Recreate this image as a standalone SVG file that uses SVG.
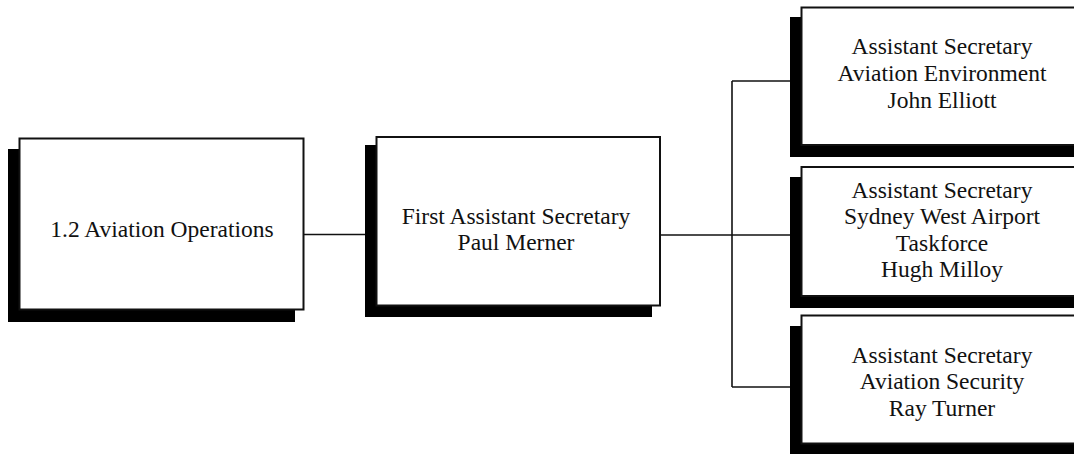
<svg xmlns="http://www.w3.org/2000/svg" width="1074" height="454" viewBox="0 0 1074 454">
  <style>
    .shadow { fill: #000; }
    .box { fill: #fff; stroke: #111; stroke-width: 2; }
    .label { font-family: "Liberation Serif", "Times New Roman", serif; font-size: 23.5px; fill: #111; text-anchor: middle; }
    .link { fill: none; stroke: #111; stroke-width: 1.6; }
  </style>
  <rect width="1074" height="454" fill="#fff"/>

  <!-- connectors -->
  <g id="connectors">
    <path class="link" d="M303 234.5 H377"/>
    <path class="link" d="M660 235 H790"/>
    <path class="link" d="M732 81 V387"/>
    <path class="link" d="M732 81 H790"/>
    <path class="link" d="M732 387 H790"/>
  </g>

  <g id="aviation-operations">
    <rect class="shadow" x="8" y="149" width="287" height="173"/>
    <rect class="box" x="19.5" y="138.5" width="284" height="171"/>
    <text class="label" x="162" y="237">1.2 Aviation Operations</text>
  </g>

  <g id="first-assistant-secretary">
    <rect class="shadow" x="365" y="145" width="287" height="172"/>
    <rect class="box" x="376.5" y="137" width="283.5" height="168.5"/>
    <text class="label" x="516" y="224">First Assistant Secretary</text>
    <text class="label" x="516" y="250">Paul Merner</text>
  </g>

  <g id="aviation-environment">
    <rect class="shadow" x="790" y="17" width="300" height="140"/>
    <rect class="box" x="801.5" y="7.5" width="290" height="137.5"/>
    <text class="label" x="942" y="53.5">Assistant Secretary</text>
    <text class="label" x="942" y="80.5">Aviation Environment</text>
    <text class="label" x="942" y="107.5">John Elliott</text>
  </g>

  <g id="sydney-west-airport">
    <rect class="shadow" x="790" y="177" width="300" height="131"/>
    <rect class="box" x="801.5" y="167" width="290" height="129"/>
    <text class="label" x="942" y="197.5">Assistant Secretary</text>
    <text class="label" x="942" y="224">Sydney West Airport</text>
    <text class="label" x="942" y="250.5">Taskforce</text>
    <text class="label" x="942" y="277">Hugh Milloy</text>
  </g>

  <g id="aviation-security">
    <rect class="shadow" x="790" y="326" width="300" height="130"/>
    <rect class="box" x="801.5" y="315.5" width="290" height="128"/>
    <text class="label" x="942" y="362.5">Assistant Secretary</text>
    <text class="label" x="942" y="389">Aviation Security</text>
    <text class="label" x="942" y="415.5">Ray Turner</text>
  </g>
</svg>
